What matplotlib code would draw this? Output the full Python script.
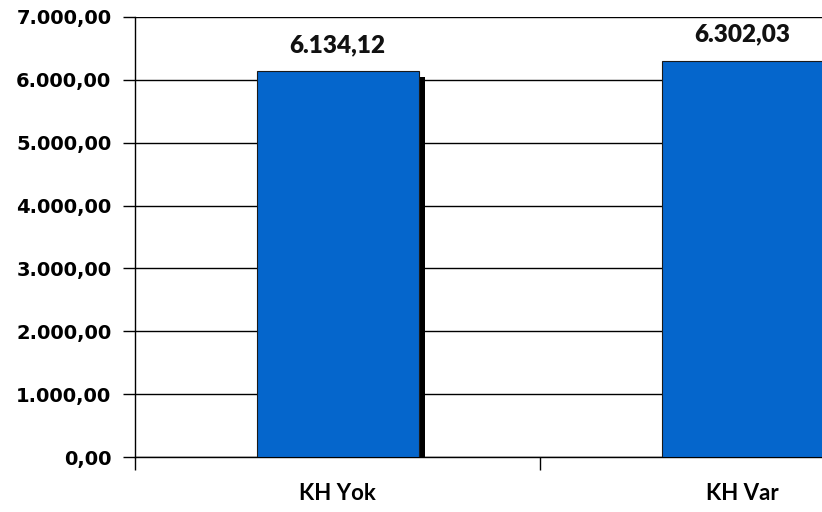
import matplotlib
matplotlib.use("Agg")
import matplotlib.pyplot as plt
import matplotlib.patheffects as pe
from matplotlib.font_manager import FontProperties
from matplotlib.ticker import FuncFormatter, MultipleLocator

categories = ["KH Yok", "KH Var"]
values = [6134.12, 6302.03]


def tr_fmt(v, pos=None):
    # 6134.12 -> 6.134,12
    s = f"{v:,.2f}"
    return s.replace(",", "X").replace(".", ",").replace("X", ".")


label_font = FontProperties(family="Lato", weight="bold", size=16)
value_font = FontProperties(family="Lato", weight="heavy", size=17.5)

fig = plt.figure(figsize=(8.22, 5.12), dpi=100)
# the plot area runs past the right edge of the figure
ax = fig.add_axes([135 / 822, 55 / 512, 810 / 822, 440 / 512])

x = list(range(len(categories)))
bars = ax.bar(x, values, width=0.40, color="#0566CC", edgecolor="#1a1a1a",
              linewidth=0.8, zorder=3)
for b in bars:
    b.set_path_effects([pe.SimplePatchShadow(offset=(4.5, -4), shadow_rgbFace="black",
                                             alpha=1.0), pe.Normal()])

for xi, v in zip(x, values):
    ax.annotate(tr_fmt(v), (xi, v), xytext=(0, 11), textcoords="offset points",
                ha="center", va="bottom", fontproperties=value_font,
                color="#111111")

ax.set_xlim(-0.5, 1.5)
ax.set_ylim(0, 7000)
ax.yaxis.set_major_locator(MultipleLocator(1000))
ax.yaxis.set_major_formatter(FuncFormatter(tr_fmt))
ax.grid(axis="y", color="black", linewidth=1.0)
ax.set_axisbelow(True)

ax.set_xticks([-0.5, 0.5, 1.5], minor=False)
ax.set_xticklabels([])
ax.set_xticks(x, minor=True)
ax.set_xticklabels(categories, minor=True)
ax.tick_params(axis="x", which="minor", length=0, pad=19)
ax.tick_params(axis="x", which="major", length=9, width=1, direction="out")
ax.tick_params(axis="y", length=9, width=1, direction="out", pad=8, labelsize=14)
for lab in ax.get_xticklabels(minor=True):
    lab.set_fontproperties(label_font)
for lab in ax.get_yticklabels():
    lab.set_fontweight("bold")

for s in ["top", "right"]:
    ax.spines[s].set_visible(False)
ax.spines["left"].set_linewidth(1.0)
ax.spines["bottom"].set_linewidth(1.0)

fig.savefig("out.png", dpi=100)
